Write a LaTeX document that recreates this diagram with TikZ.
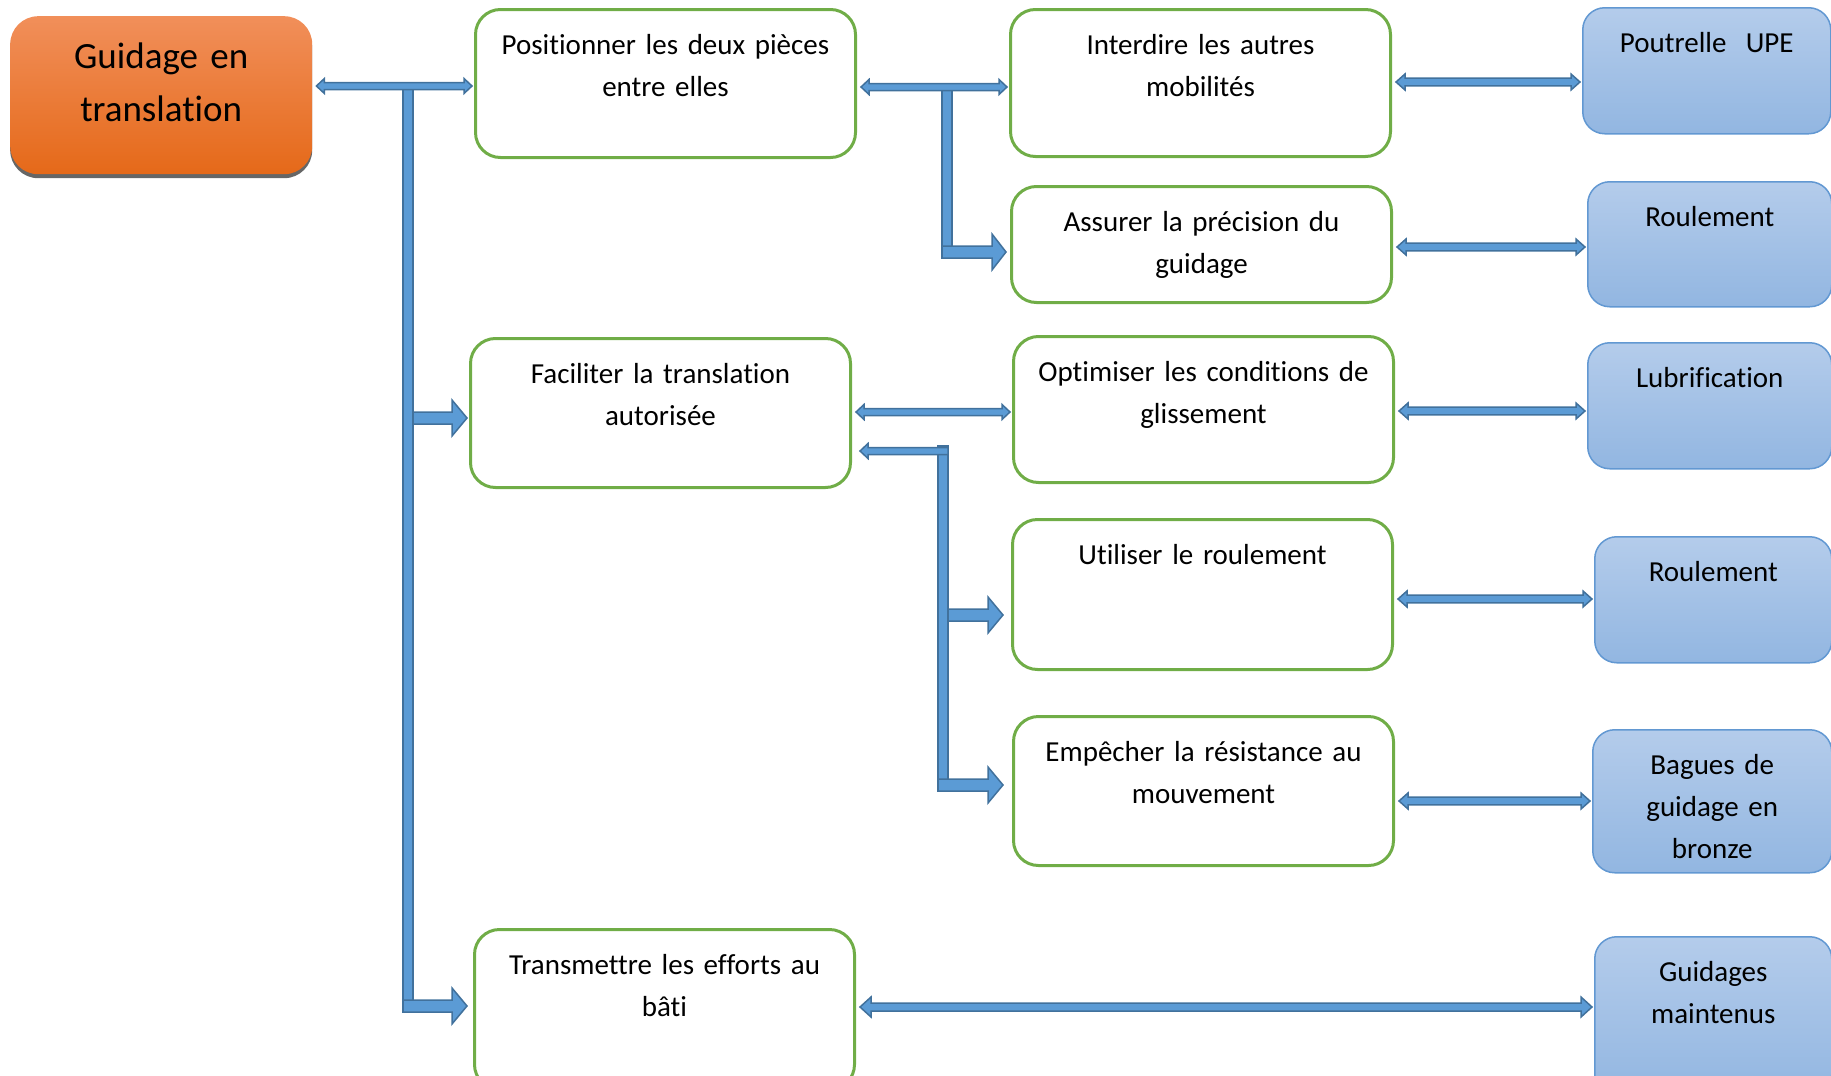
\documentclass[tikz,border=0pt]{standalone}
\usepackage{fontspec}
\setmainfont{Carlito}[Ligatures=NoCommon]
\usetikzlibrary{calc}
\definecolor{gboxc}{RGB}{112,173,71}
\definecolor{arrfill}{RGB}{91,155,213}
\definecolor{arrline}{RGB}{65,113,156}
\definecolor{btop}{RGB}{180,204,235}
\definecolor{bbot}{RGB}{146,182,225}
\definecolor{bline}{RGB}{98,152,210}
\definecolor{otop}{RGB}{241,143,90}
\definecolor{omid}{RGB}{242,124,42}
\definecolor{obot}{RGB}{229,105,25}
\tikzset{
  gbox/.style 2 args={draw=gboxc, line width=3pt, rounded corners=25pt, anchor=north west,
    inner sep=0pt, text width=#1, text height=45pt, text depth=#2, align=center,
    font=\fontsize{29}{42}\selectfont},
  bbox/.style 2 args={draw=bline, line width=1.5pt, rounded corners=22pt, anchor=north west,
    top color=btop, bottom color=bbot,
    inner sep=0pt, text width=#1, text height=45pt, text depth=#2, align=center,
    font=\fontsize{29}{42}\selectfont},
  obox/.style={rounded corners=28pt, anchor=north west, inner sep=0pt,
    top color=otop, middle color=omid, bottom color=obot,
    preaction={fill=black!60, transform canvas={yshift=-4pt}},
    text width=302pt, text height=52pt, text depth=106pt, align=center,
    font=\fontsize{37}{53}\selectfont},
  arr/.style={fill=arrfill, draw=arrline, line width=1.5pt, line join=miter},
}
% double-headed horizontal block arrow between two anchors at height #3
\newcommand\hdbl[6]{%
  \filldraw[arr] let \p1=(#1), \p2=(#2), \p3=(0,#3) in
   ({\x1+4pt},{\y3}) -- ({\x1+4pt+#6},{\y3+#5}) -- ({\x1+4pt+#6},{\y3+#4})
   -- ({\x2-2pt-#6},{\y3+#4}) -- ({\x2-2pt-#6},{\y3+#5}) -- ({\x2-2pt},{\y3})
   -- ({\x2-2pt-#6},{\y3-#5}) -- ({\x2-2pt-#6},{\y3-#4}) -- ({\x1+4pt+#6},{\y3-#4})
   -- ({\x1+4pt+#6},{\y3-#5}) -- cycle;}
% single-headed horizontal block arrow from base #1 to tip #2 at height #3 (#6 signed head length)
\newcommand\hsgl[6]{%
  \filldraw[arr] let \p1=(#1), \p2=(#2), \p3=(0,#3) in
   ({\x1},{\y3+#4}) -- ({\x2-(#6)},{\y3+#4}) -- ({\x2-(#6)},{\y3+#5}) -- ({\x2},{\y3})
   -- ({\x2-(#6)},{\y3-#5}) -- ({\x2-(#6)},{\y3-#4}) -- ({\x1},{\y3-#4}) -- cycle;}
\begin{document}
\begin{tikzpicture}[x=1pt,y=-1pt]
\useasboundingbox (0,0) rectangle (1831,1076);
\begin{scope}
\clip (0,0) rectangle (1831,1076);
% root
\node[obox] (G) at (10,16) {Guidage en\\translation};
% function boxes
\node[gbox={380pt}{103pt}] (P) at (474,8) {Positionner les deux pièces\\entre elles};
\node[gbox={380pt}{102pt}] (I) at (1009,8) {Interdire les autres\\mobilités};
\node[gbox={380pt}{71pt}] (A) at (1010,185) {Assurer la précision du\\guidage};
\node[gbox={380pt}{104pt}] (F) at (469,337) {Faciliter la translation\\autorisée};
\node[gbox={380pt}{101pt}] (O) at (1012,335) {Optimiser les conditions de\\glissement};
\node[gbox={380pt}{105pt}] (U) at (1011,518) {Utiliser le roulement};
\node[gbox={380pt}{104pt}] (E) at (1012,715) {Empêcher la résistance au\\mouvement};
\node[gbox={380pt}{115pt}] (T) at (473,928) {Transmettre les efforts au\\bâti};
% solution boxes
\node[bbox={248pt}{81pt}] (B1) at (1582,7) {Poutrelle\ \ UPE};
\node[bbox={244pt}{80pt}] (B2) at (1587,181) {Roulement};
\node[bbox={244pt}{81pt}] (B3) at (1587,342) {Lubrification};
\node[bbox={237pt}{81pt}] (B4) at (1594,536) {Roulement};
\node[bbox={239pt}{98pt}] (B5) at (1592,729) {Bagues de\\guidage en\\bronze};
\node[bbox={237pt}{115pt}] (B6) at (1594,936) {Guidages\\maintenus};
% main trunk
\filldraw[arr] (403,86) rectangle (413,1012);
\hdbl{G.east}{P.west}{86}{3.5pt}{7.5pt}{8pt}
\hsgl{413,0}{$(F.west)+(-2,0)$}{418}{6pt}{18pt}{15pt}
\hsgl{403,0}{$(T.west)+(-6,0)$}{1006}{6pt}{18pt}{15pt}
% second trunk
\filldraw[arr] (942,87) rectangle (952,258);
\hdbl{P.east}{I.west}{87}{3.5pt}{7.5pt}{8pt}
\hsgl{942,0}{$(A.west)+(-4,0)$}{252}{6pt}{18pt}{14pt}
% third trunk
\filldraw[arr] (938,446) rectangle (948,791);
\hdbl{F.east}{O.west}{412}{3.5pt}{7.5pt}{8pt}
\hsgl{948,0}{$(F.east)+(8,0)$}{451}{3.5pt}{7.5pt}{-8pt}
\hsgl{948,0}{$(U.west)+(-8,0)$}{615}{6pt}{18pt}{15pt}
\hsgl{938,0}{$(E.west)+(-9,0)$}{785}{6pt}{18pt}{15pt}
% links to solutions
\hdbl{I.east}{B1.west}{82}{3.8pt}{8pt}{9pt}
\hdbl{A.east}{B2.west}{247}{3.8pt}{8pt}{9pt}
\hdbl{O.east}{B3.west}{411}{3.8pt}{8pt}{9pt}
\hdbl{U.east}{B4.west}{599}{3.8pt}{8pt}{9pt}
\hdbl{E.east}{B5.west}{801}{3.8pt}{8pt}{9pt}
\hdbl{T.east}{B6.west}{1007}{4pt}{10pt}{11pt}
\end{scope}
\end{tikzpicture}
\end{document}
